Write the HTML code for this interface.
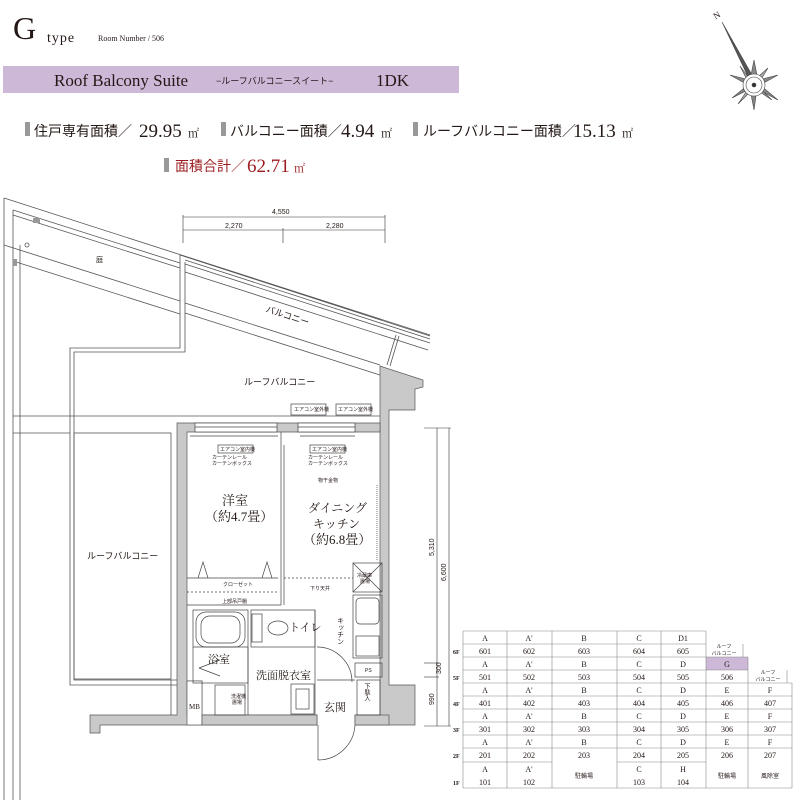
<!DOCTYPE html>
<html><head><meta charset="utf-8"><style>
html,body{margin:0;padding:0;background:#fff}
svg{display:block}
text{font-family:"Liberation Serif","Noto Serif CJK SC",serif;fill:#231815}
.s{font-family:"Liberation Sans","Noto Sans CJK JP",sans-serif}
</style></head><body>
<svg width="800" height="800" viewBox="0 0 800 800" xmlns="http://www.w3.org/2000/svg">
<!-- header -->
<text x="13" y="39" font-size="32">G</text>
<text x="47" y="42" font-size="14" letter-spacing="1">type</text>
<text x="98" y="41" font-size="8">Room Number / 506</text>
<rect x="3" y="66" width="456" height="27" fill="#cdb8d7"/>
<text x="54" y="86" font-size="17">Roof Balcony Suite</text>
<text x="216" y="84" font-size="9" class="s">−ルーフバルコニースイート−</text>
<text x="376" y="86" font-size="17">1DK</text>

<g>
<rect x="25" y="122" width="5" height="14" fill="#999"/>
<text x="34" y="136" font-size="14" class="s">住戸専有面積／</text>
<text x="139" y="137" font-size="19">29.95</text><text x="188" y="137" font-size="11">㎡</text>
<rect x="221" y="122" width="5" height="14" fill="#999"/>
<text x="230" y="136" font-size="14" class="s">バルコニー面積／</text>
<text x="341" y="137" font-size="19">4.94</text><text x="381" y="137" font-size="11">㎡</text>
<rect x="413" y="122" width="5" height="14" fill="#999"/>
<text x="423" y="136" font-size="14" class="s">ルーフバルコニー面積／</text>
<text x="573" y="137" font-size="19">15.13</text><text x="622" y="137" font-size="11">㎡</text>
<rect x="164" y="158" width="5" height="14" fill="#999"/>
<text x="175" y="171" font-size="14" class="s" style="fill:#9b1b1e">面積合計／</text>
<text x="247" y="172" font-size="19" style="fill:#9b1b1e">62.71</text><text x="294" y="172" font-size="11" style="fill:#9b1b1e">㎡</text>
</g>

<!-- compass -->
<g stroke="#444" fill="#777" stroke-width="0.6">
<text x="713" y="18" font-size="9" transform="rotate(-30 717 14)" stroke="none" fill="#444">N</text>
<polygon points="722,22 756,82 752,85" fill="#555"/>
<polygon points="754,60 758,80 778,75 760,85 778,100 757,89 754,110 750,89 732,98 748,85 730,75 750,80" fill="#888"/>
<polygon points="740,66 752,82 768,68 757,86 772,100 754,88 738,104 750,86" fill="#aaa"/>
<circle cx="754" cy="85" r="11" fill="#fff"/>
<circle cx="754" cy="85" r="8" fill="none"/>
<circle cx="754" cy="85" r="2" fill="#333"/>
</g>

<!-- site lines -->
<g stroke="#555" stroke-width="0.8" fill="none">
<line x1="4" y1="198" x2="4" y2="800"/>
<line x1="13" y1="210" x2="13" y2="800"/>
<line x1="20" y1="245" x2="20" y2="800"/>
<line x1="4" y1="198" x2="430" y2="335"/>
<line x1="13" y1="210" x2="180" y2="263"/>
<line x1="13" y1="215" x2="180" y2="268"/>
<line x1="4" y1="245" x2="180" y2="301"/>
<line x1="13" y1="261" x2="180" y2="314"/>
<line x1="180" y1="255" x2="430" y2="336"/>
<line x1="185" y1="260" x2="430" y2="339"/>
<line x1="185" y1="264" x2="430" y2="343"/>
<line x1="185" y1="272" x2="428" y2="350"/>
<line x1="185" y1="303" x2="380" y2="365"/>
<line x1="185" y1="313" x2="380" y2="375"/>
<polyline points="180,255 180,348 70,348 70,685 177,685"/>
<polyline points="185,262 185,352 74,352 74,680 177,680"/>
<line x1="13" y1="416" x2="380" y2="416"/>
<line x1="13" y1="433" x2="70" y2="433"/>
<rect x="74" y="433" width="97" height="246"/>
<line x1="171" y1="680" x2="171" y2="715"/>
<line x1="387" y1="365" x2="396" y2="335"/>
<line x1="390" y1="366" x2="399" y2="336"/>
<circle cx="27" cy="245" r="2"/>
</g>
<rect x="33" y="218" width="7" height="5" fill="#999"/>
<rect x="13" y="259" width="4" height="7" fill="#999"/>

<!-- dimensions -->
<g stroke="#333" stroke-width="0.6">
<line x1="183" y1="217" x2="385" y2="217"/>
<line x1="183" y1="230" x2="385" y2="230"/>
<line x1="183" y1="215" x2="183" y2="243"/>
<line x1="283" y1="228" x2="283" y2="243"/>
<line x1="385" y1="215" x2="385" y2="243"/>
<line x1="437" y1="428" x2="437" y2="726"/>
<line x1="449" y1="428" x2="449" y2="726"/>
<line x1="424" y1="428" x2="451" y2="428"/>
<line x1="424" y1="663" x2="439" y2="663"/>
<line x1="424" y1="677" x2="439" y2="677"/>
<line x1="424" y1="726" x2="451" y2="726"/>
</g>
<g font-size="7" class="s">
<text x="272" y="214" class="s">4,550</text>
<text x="225" y="228" class="s">2,270</text>
<text x="326" y="228" class="s">2,280</text>
<text x="0" y="0" class="s" transform="translate(434,556) rotate(-90)">5,310</text>
<text x="0" y="0" class="s" transform="translate(446,581) rotate(-90)">6,600</text>
<text x="0" y="0" class="s" transform="translate(441,674) rotate(-90)">300</text>
<text x="0" y="0" class="s" transform="translate(434,705) rotate(-90)">990</text>
</g>

<!-- walls -->
<g fill="#c9c9c9" stroke="#555" stroke-width="0.7">
<polygon points="380,366 423,380 423,387 415,389 415,410 389,410 389,685 415,685 415,725 355,725 355,715 380,715 380,432 380,366"/>
<polygon points="177,423 380,423 380,432 187,432 187,715 202,715 202,681 187,681 187,715 317,715 317,725 100,725 100,733 90,733 90,715 177,715"/>
</g>
<rect x="187" y="681" width="15" height="44" fill="#fff" stroke="#555" stroke-width="0.7"/>
<rect x="202" y="715" width="115" height="10" fill="#c9c9c9" stroke="#555" stroke-width="0.7"/>
<rect x="355" y="715" width="34" height="10" fill="#c9c9c9" stroke="#555" stroke-width="0.7"/>

<!-- interior -->
<g stroke="#444" stroke-width="0.7" fill="none">
<rect x="195" y="423" width="82" height="9" fill="#fff"/>
<rect x="298" y="423" width="57" height="9" fill="#fff"/>
<line x1="195" y1="427" x2="277" y2="427"/><line x1="298" y1="427" x2="355" y2="427"/>
<rect x="291" y="404" width="35" height="11"/>
<rect x="336" y="404" width="35" height="11"/>
<rect x="218" y="445" width="35" height="8"/>
<rect x="310" y="445" width="35" height="8"/>
<line x1="190" y1="436" x2="278" y2="436"/><line x1="300" y1="436" x2="355" y2="436"/>
<line x1="281" y1="432" x2="281" y2="605"/><line x1="284" y1="445" x2="284" y2="605"/>
<line x1="187" y1="578" x2="278" y2="578"/>
<line x1="187" y1="605" x2="281" y2="605"/>
<line x1="187" y1="592" x2="278" y2="592" stroke-dasharray="2,2"/>
<polyline points="198,578 203,562 208,578"/><polyline points="262,578 267,562 272,578"/>
<line x1="284" y1="578" x2="353" y2="578" stroke-dasharray="2,2"/>
<line x1="377" y1="485" x2="377" y2="560" stroke-dasharray="1,1"/>
<rect x="193" y="610" width="55" height="73"/>
<rect x="196" y="612" width="49" height="35" rx="10"/>
<rect x="201" y="616" width="39" height="27" rx="9"/>
<line x1="193" y1="647" x2="248" y2="647"/>
<rect x="251" y="610" width="64" height="37"/>
<ellipse cx="278" cy="628" rx="10" ry="7"/>
<rect x="252" y="614" width="10" height="28"/>
<line x1="248" y1="647" x2="248" y2="715"/>
<line x1="315" y1="610" x2="315" y2="715"/>
<rect x="291" y="684" width="23" height="30"/>
<rect x="296" y="689" width="13" height="20"/>
<rect x="215" y="685" width="30" height="30"/>
<rect x="353" y="563" width="29" height="29"/>
<line x1="353" y1="563" x2="382" y2="592"/><line x1="382" y1="563" x2="353" y2="592"/>
<rect x="353" y="595" width="29" height="63"/>
<rect x="356" y="598" width="23" height="26" rx="4"/>
<rect x="356" y="636" width="23" height="20"/>
<rect x="355" y="663" width="27" height="14"/>
<rect x="357" y="680" width="23" height="35"/>
<line x1="317" y1="680" x2="355" y2="680"/>
<path d="M317,647 A35,35 0 0 1 352,682"/>
<line x1="318" y1="725" x2="318" y2="760"/>
<path d="M318,760 A37,37 0 0 0 355,725"/>
<line x1="199" y1="668" x2="220" y2="660"/><line x1="199" y1="668" x2="220" y2="676"/>
</g>

<!-- labels -->
<g class="s" font-size="5">
<text x="294" y="411" class="s">エアコン室外機</text>
<text x="338" y="411" class="s">エアコン室外機</text>
<text x="220" y="451" class="s">エアコン室内機</text>
<text x="312" y="451" class="s">エアコン室内機</text>
<text x="212" y="459" class="s">カーテンレール</text><text x="212" y="465" class="s">カーテンボックス</text>
<text x="308" y="459" class="s">カーテンレール</text><text x="308" y="465" class="s">カーテンボックス</text>
<text x="318" y="482" class="s">物干金物</text>
<text x="223" y="586" class="s">クローゼット</text>
<text x="222" y="603" class="s">上部吊戸棚</text>
<text x="310" y="590" class="s">下り天井</text>
<text x="357" y="577" class="s">冷蔵庫</text><text x="360" y="583" class="s">置場</text>
<text x="365" y="672" class="s">PS</text>
<text x="231" y="698" class="s">洗濯機</text><text x="232" y="704" class="s">置場</text>
</g>
<text x="96" y="262" font-size="7" class="s">庭</text>
<text x="263" y="318" font-size="9" class="s" transform="rotate(18 284 322)">バルコニー</text>
<text x="244" y="385" font-size="9" class="s">ルーフバルコニー</text>
<text x="87" y="559" font-size="9" class="s">ルーフバルコニー</text>
<text x="222" y="505" font-size="13">洋室</text>
<text x="205" y="521" font-size="13">（約4.7畳）</text>
<text x="308" y="512" font-size="12">ダイニング</text>
<text x="313" y="528" font-size="12">キッチン</text>
<text x="303" y="544" font-size="13">（約6.8畳）</text>
<text x="289" y="631" font-size="11">トイレ</text>
<text x="208" y="663" font-size="11">浴室</text>
<text x="256" y="679" font-size="11">洗面脱衣室</text>
<text x="324" y="711" font-size="11">玄関</text>
<text x="189" y="709" font-size="7">MB</text>
<text x="340" y="617" font-size="7" class="s" writing-mode="tb">キッチン</text>
<text x="366" y="683" font-size="6" class="s" writing-mode="tb">下駄入</text>

<!-- table -->
<g stroke="#888" stroke-width="0.6" fill="none">
<rect x="706" y="657" width="42" height="13" fill="#cdb8d7" stroke="none"/>
<line x1="463" y1="631" x2="706" y2="631"/>
<line x1="463" y1="644" x2="706" y2="644"/>
<line x1="463" y1="657" x2="748" y2="657"/>
<line x1="463" y1="670" x2="748" y2="670"/>
<line x1="463" y1="683" x2="792" y2="683"/>
<line x1="463" y1="696" x2="792" y2="696"/>
<line x1="463" y1="709" x2="792" y2="709"/>
<line x1="463" y1="722" x2="792" y2="722"/>
<line x1="463" y1="735" x2="792" y2="735"/>
<line x1="463" y1="748" x2="792" y2="748"/>
<line x1="463" y1="762" x2="552" y2="762"/><line x1="617" y1="762" x2="706" y2="762"/>
<line x1="463" y1="775" x2="792" y2="775" stroke="none"/>
<line x1="463" y1="788" x2="792" y2="788"/>
<line x1="463" y1="631" x2="463" y2="788"/>
<line x1="507" y1="631" x2="507" y2="788"/>
<line x1="552" y1="631" x2="552" y2="788"/>
<line x1="617" y1="631" x2="617" y2="788"/>
<line x1="661" y1="631" x2="661" y2="788"/>
<line x1="706" y1="631" x2="706" y2="788"/>
<line x1="748" y1="657" x2="748" y2="788"/>
<line x1="792" y1="683" x2="792" y2="788"/>
<line x1="743" y1="644" x2="743" y2="657"/>
<line x1="787" y1="670" x2="787" y2="683"/>
</g>
<g font-size="8" text-anchor="middle">
<text x="485" y="641">A</text><text x="529" y="641">A'</text><text x="584" y="641">B</text><text x="639" y="641">C</text><text x="683" y="641">D1</text>
<text x="485" y="654">601</text><text x="529" y="654">602</text><text x="584" y="654">603</text><text x="639" y="654">604</text><text x="683" y="654">605</text>
<text x="485" y="667">A</text><text x="529" y="667">A'</text><text x="584" y="667">B</text><text x="639" y="667">C</text><text x="683" y="667">D</text><text x="727" y="667">G</text>
<text x="485" y="680">501</text><text x="529" y="680">502</text><text x="584" y="680">503</text><text x="639" y="680">504</text><text x="683" y="680">505</text><text x="727" y="680">506</text>
<text x="485" y="693">A</text><text x="529" y="693">A'</text><text x="584" y="693">B</text><text x="639" y="693">C</text><text x="683" y="693">D</text><text x="727" y="693">E</text><text x="770" y="693">F</text>
<text x="485" y="706">401</text><text x="529" y="706">402</text><text x="584" y="706">403</text><text x="639" y="706">404</text><text x="683" y="706">405</text><text x="727" y="706">406</text><text x="770" y="706">407</text>
<text x="485" y="719">A</text><text x="529" y="719">A'</text><text x="584" y="719">B</text><text x="639" y="719">C</text><text x="683" y="719">D</text><text x="727" y="719">E</text><text x="770" y="719">F</text>
<text x="485" y="732">301</text><text x="529" y="732">302</text><text x="584" y="732">303</text><text x="639" y="732">304</text><text x="683" y="732">305</text><text x="727" y="732">306</text><text x="770" y="732">307</text>
<text x="485" y="745">A</text><text x="529" y="745">A'</text><text x="584" y="745">B</text><text x="639" y="745">C</text><text x="683" y="745">D</text><text x="727" y="745">E</text><text x="770" y="745">F</text>
<text x="485" y="758">201</text><text x="529" y="758">202</text><text x="584" y="758">203</text><text x="639" y="758">204</text><text x="683" y="758">205</text><text x="727" y="758">206</text><text x="770" y="758">207</text>
<text x="485" y="772">A</text><text x="529" y="772">A'</text><text x="639" y="772">C</text><text x="683" y="772">H</text>
<text x="485" y="785">101</text><text x="529" y="785">102</text><text x="639" y="785">103</text><text x="683" y="785">104</text>
</g>
<g font-size="6" class="s" text-anchor="middle">
<text x="584" y="778" class="s">駐輪場</text><text x="727" y="778" class="s">駐輪場</text><text x="770" y="778" class="s">風除室</text>
<text x="724" y="648" class="s" font-size="5">ルーフ</text><text x="724" y="655" class="s" font-size="5">バルコニー</text>
<text x="768" y="674" class="s" font-size="5">ルーフ</text><text x="768" y="681" class="s" font-size="5">バルコニー</text>
</g>
<g font-size="6" font-weight="bold">
<text x="453" y="654">6F</text><text x="453" y="680">5F</text><text x="453" y="706">4F</text><text x="453" y="732">3F</text><text x="453" y="758">2F</text><text x="453" y="785">1F</text>
</g>
</svg>
</body></html>
